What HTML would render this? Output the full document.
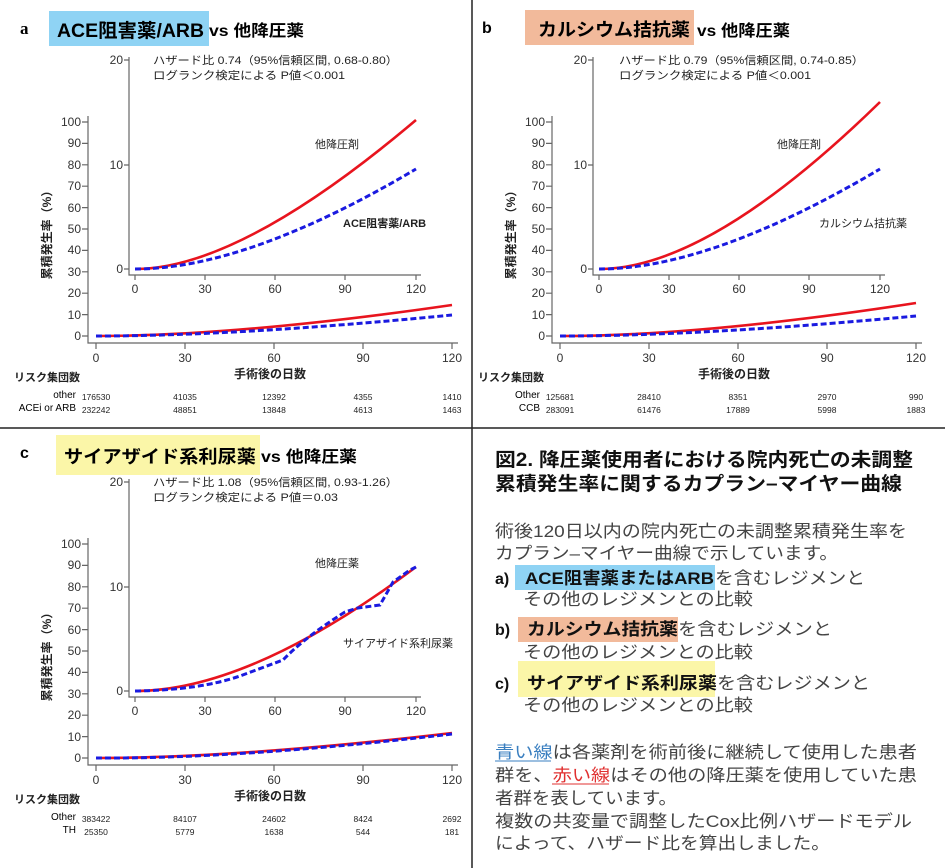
<!DOCTYPE html>
<html><head><meta charset="utf-8"><style>
html,body{margin:0;padding:0;background:#fff;}
svg{display:block;font-family:"Liberation Sans","Noto Sans CJK JP",sans-serif;}
.ax{stroke:#666;stroke-width:1.2;fill:none}
.tk{font-size:12px;fill:#333}
.rk{font-size:8.5px;fill:#222;text-anchor:middle}
.red{stroke:#e8141e;stroke-width:2.6;fill:none}
.blue{stroke:#1a1ae0;stroke-width:3;fill:none;stroke-dasharray:6 3}
.bd{font-weight:bold}
.g{fill:#444;font-size:17px}
</style></head><body>
<svg width="945" height="868" viewBox="0 0 945 868">
<defs>
<g id="axes">
  <path class="ax" d="M88,116 V343 H458"/>
  <g class="ax">
    <path d="M82,122h6M82,143.4h6M82,164.8h6M82,186.2h6M82,207.6h6M82,229h6M82,250.4h6M82,271.8h6M82,293.2h6M82,314.6h6M82,336h6"/>
    <path d="M96,343v6M185,343v6M274,343v6M363,343v6M452,343v6"/>
  </g>
  <g class="tk" text-anchor="end">
    <text x="81" y="126">100</text><text x="81" y="147">90</text><text x="81" y="169">80</text><text x="81" y="190">70</text><text x="81" y="212">60</text><text x="81" y="233">50</text><text x="81" y="254">40</text><text x="81" y="276">30</text><text x="81" y="297">20</text><text x="81" y="319">10</text><text x="81" y="340">0</text>
  </g>
  <g class="tk" text-anchor="middle">
    <text x="96" y="362">0</text><text x="185" y="362">30</text><text x="274" y="362">60</text><text x="363" y="362">90</text><text x="452" y="362">120</text>
  </g>
  <path class="ax" d="M129,57 V275 H421"/>
  <g class="ax">
    <path d="M124,60h5M124,165h5M124,269h5"/>
    <path d="M135,275v5M205,275v5M275,275v5M345,275v5M416,275v5"/>
  </g>
  <g class="tk" text-anchor="end">
    <text x="123" y="64">20</text><text x="123" y="169">10</text><text x="123" y="273">0</text>
  </g>
  <g class="tk" text-anchor="middle">
    <text x="135" y="293">0</text><text x="205" y="293">30</text><text x="275" y="293">60</text><text x="345" y="293">90</text><text x="416" y="293">120</text>
  </g>
  <text transform="translate(51,232) rotate(-90)" font-size="12" font-weight="bold" fill="#222" text-anchor="middle">累積発生率（%）</text>
  <text x="270" y="378" font-size="12" font-weight="bold" fill="#222" text-anchor="middle">手術後の日数</text>
  <text x="14" y="381" font-size="11" font-weight="bold" fill="#222">リスク集団数</text>
</g>
</defs>

<line x1="472" y1="0" x2="472" y2="868" stroke="#222" stroke-width="1.5"/>
<line x1="0" y1="428" x2="945" y2="428" stroke="#222" stroke-width="1.5"/>

<!-- Panel a -->
<text x="20" y="34" font-family="Liberation Serif" font-weight="bold" font-size="17">a</text>
<rect x="49" y="11" width="160" height="35" fill="#8fd3f4"/>
<text x="57" y="37" class="bd" font-size="19" textLength="147" lengthAdjust="spacingAndGlyphs">ACE阻害薬/ARB</text>
<text x="209" y="36" class="bd" font-size="16" textLength="95" lengthAdjust="spacingAndGlyphs">vs 他降圧薬</text>
<g>
  <use href="#axes"/>
  <text x="153" y="64" font-size="11" fill="#222" textLength="245" lengthAdjust="spacingAndGlyphs">ハザード比 0.74（95%信頼区間, 0.68-0.80）</text>
  <text x="153" y="79" font-size="11" fill="#222" textLength="192" lengthAdjust="spacingAndGlyphs">ログランク検定による P値＜0.001</text>
  <text x="315" y="148" font-size="11" fill="#222">他降圧剤</text>
  <text x="343" y="227" font-size="11" font-weight="bold" fill="#222">ACE阻害薬/ARB</text>
  <path class="red" d="M135,269 Q240,269 416,120"/>
  <path class="blue" d="M135,269 Q247,269 416,169"/>
  <path class="red" d="M96,336 Q238,336 452,305"/>
  <path class="blue" d="M96,336 Q238,336 452,315"/>
  <text x="76" y="398" font-size="10" text-anchor="end">other</text>
  <text x="76" y="411" font-size="10" text-anchor="end">ACEi or ARB</text>
  <g class="rk"><text x="96" y="400">176530</text><text x="185" y="400">41035</text><text x="274" y="400">12392</text><text x="363" y="400">4355</text><text x="452" y="400">1410</text>
  <text x="96" y="413">232242</text><text x="185" y="413">48851</text><text x="274" y="413">13848</text><text x="363" y="413">4613</text><text x="452" y="413">1463</text></g>
</g>

<!-- Panel b -->
<text x="482" y="33" font-weight="bold" font-size="16">b</text>
<rect x="525" y="10" width="169" height="35" fill="#f2ba9b"/>
<text x="538" y="36" class="bd" font-size="18" textLength="152" lengthAdjust="spacingAndGlyphs">カルシウム拮抗薬</text>
<text x="697" y="36" class="bd" font-size="16" textLength="93" lengthAdjust="spacingAndGlyphs">vs 他降圧薬</text>
<g transform="translate(464,0)">
  <use href="#axes"/>
  <text x="155" y="64" font-size="11" fill="#222" textLength="245" lengthAdjust="spacingAndGlyphs">ハザード比 0.79（95%信頼区間, 0.74-0.85）</text>
  <text x="155" y="79" font-size="11" fill="#222" textLength="192" lengthAdjust="spacingAndGlyphs">ログランク検定による P値＜0.001</text>
  <text x="313" y="148" font-size="11" fill="#222">他降圧剤</text>
  <text x="355" y="227" font-size="11" fill="#222">カルシウム拮抗薬</text>
  <path class="red" d="M135,269 Q245,269 416,102"/>
  <path class="blue" d="M135,269 Q247,269 416,169"/>
  <path class="red" d="M96,336 Q238,336 452,303"/>
  <path class="blue" d="M96,336 Q238,336 452,316"/>
  <text x="76" y="398" font-size="10" text-anchor="end">Other</text>
  <text x="76" y="411" font-size="10" text-anchor="end">CCB</text>
  <g class="rk"><text x="96" y="400">125681</text><text x="185" y="400">28410</text><text x="274" y="400">8351</text><text x="363" y="400">2970</text><text x="452" y="400">990</text>
  <text x="96" y="413">283091</text><text x="185" y="413">61476</text><text x="274" y="413">17889</text><text x="363" y="413">5998</text><text x="452" y="413">1883</text></g>
</g>

<!-- Panel c -->
<text x="20" y="458" font-weight="bold" font-size="16">c</text>
<rect x="56" y="435" width="204" height="40" fill="#fbf6a8"/>
<text x="64" y="463" class="bd" font-size="18" textLength="192" lengthAdjust="spacingAndGlyphs">サイアザイド系利尿薬</text>
<text x="261" y="462" class="bd" font-size="16" textLength="96" lengthAdjust="spacingAndGlyphs">vs 他降圧薬</text>
<g transform="translate(0,422)">
  <use href="#axes"/>
  <text x="153" y="64" font-size="11" fill="#222" textLength="245" lengthAdjust="spacingAndGlyphs">ハザード比 1.08（95%信頼区間, 0.93-1.26）</text>
  <text x="153" y="79" font-size="11" fill="#222" textLength="185" lengthAdjust="spacingAndGlyphs">ログランク検定による P値＝0.03</text>
  <text x="315" y="145" font-size="11" fill="#222">他降圧薬</text>
  <text x="343" y="225" font-size="11" fill="#222">サイアザイド系利尿薬</text>
  <path class="red" d="M135,269 Q250,269 416,145"/>
  <path class="blue" d="M135,269 Q200,268 240,254 L283,238 Q305,215 345,190 L358,186 L380,183 L393,160 L410,148 L416,145"/>
  <path class="red" d="M96,336 Q238,336 452,311"/>
  <path class="blue" d="M96,336 Q238,337 452,312"/>
  <text x="76" y="398" font-size="10" text-anchor="end">Other</text>
  <text x="76" y="411" font-size="10" text-anchor="end">TH</text>
  <g class="rk"><text x="96" y="400">383422</text><text x="185" y="400">84107</text><text x="274" y="400">24602</text><text x="363" y="400">8424</text><text x="452" y="400">2692</text>
  <text x="96" y="413">25350</text><text x="185" y="413">5779</text><text x="274" y="413">1638</text><text x="363" y="413">544</text><text x="452" y="413">181</text></g>
</g>

<!-- Right text panel -->
<text x="495" y="466" class="bd" font-size="19" fill="#111" textLength="418" lengthAdjust="spacingAndGlyphs">図2. 降圧薬使用者における院内死亡の未調整</text>
<text x="495" y="490" class="bd" font-size="19" fill="#111" textLength="407" lengthAdjust="spacingAndGlyphs">累積発生率に関するカプラン–マイヤー曲線</text>
<text x="495" y="537" class="g" textLength="412" lengthAdjust="spacingAndGlyphs">術後120日以内の院内死亡の未調整累積発生率を</text>
<text x="495" y="559" class="g" textLength="343" lengthAdjust="spacingAndGlyphs">カプラン–マイヤー曲線で示しています。</text>

<text x="495" y="584" class="bd" font-size="16" fill="#111">a)</text>
<rect x="515" y="565" width="200" height="25" fill="#8fd3f4"/>
<text x="525" y="584" class="bd" font-size="17" fill="#111" textLength="189" lengthAdjust="spacingAndGlyphs">ACE阻害薬またはARB</text>
<text x="715" y="584" class="g" textLength="150" lengthAdjust="spacingAndGlyphs">を含むレジメンと</text>
<text x="523" y="605" class="g" textLength="230" lengthAdjust="spacingAndGlyphs">その他のレジメンとの比較</text>

<text x="495" y="635" class="bd" font-size="16" fill="#111">b)</text>
<rect x="518" y="617" width="160" height="25" fill="#f2ba9b"/>
<text x="527" y="635" class="bd" font-size="17" fill="#111" textLength="151" lengthAdjust="spacingAndGlyphs">カルシウム拮抗薬</text>
<text x="678" y="635" class="g" textLength="154" lengthAdjust="spacingAndGlyphs">を含むレジメンと</text>
<text x="523" y="658" class="g" textLength="230" lengthAdjust="spacingAndGlyphs">その他のレジメンとの比較</text>

<text x="495" y="689" class="bd" font-size="16" fill="#111">c)</text>
<rect x="518" y="661" width="197" height="36" fill="#fbf6a8"/>
<text x="527" y="689" class="bd" font-size="17" fill="#111" textLength="190" lengthAdjust="spacingAndGlyphs">サイアザイド系利尿薬</text>
<text x="717" y="689" class="g" textLength="153" lengthAdjust="spacingAndGlyphs">を含むレジメンと</text>
<text x="523" y="711" class="g" textLength="230" lengthAdjust="spacingAndGlyphs">その他のレジメンとの比較</text>

<text x="495" y="758" class="g" textLength="422" lengthAdjust="spacingAndGlyphs"><tspan fill="#3a7fc0">青い線</tspan>は各薬剤を術前後に継続して使用した患者</text>
<line x1="495" y1="761" x2="551" y2="761" stroke="#3a7fc0" stroke-width="1"/>
<text x="495" y="781" class="g" textLength="422" lengthAdjust="spacingAndGlyphs">群を、<tspan fill="#e03030">赤い線</tspan>はその他の降圧薬を使用していた患</text>
<line x1="552" y1="784" x2="609" y2="784" stroke="#e03030" stroke-width="1"/>
<text x="495" y="804" class="g" textLength="182" lengthAdjust="spacingAndGlyphs">者群を表しています。</text>
<text x="495" y="827" class="g" textLength="417" lengthAdjust="spacingAndGlyphs">複数の共変量で調整したCox比例ハザードモデル</text>
<text x="495" y="849" class="g" textLength="335" lengthAdjust="spacingAndGlyphs">によって、ハザード比を算出しました。</text>
</svg>
</body></html>
